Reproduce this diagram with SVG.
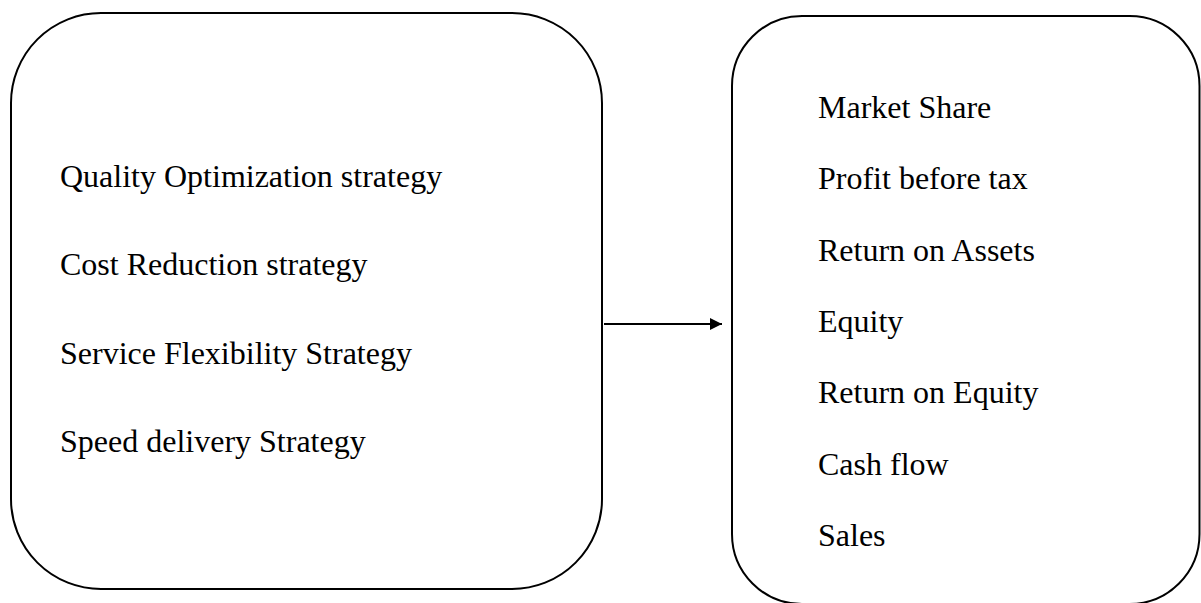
<svg xmlns="http://www.w3.org/2000/svg" width="1201" height="603" viewBox="0 0 1201 603">
  <style>
    .box { fill: #ffffff; stroke: #000000; stroke-width: 2; }
    .label { font-family: "Liberation Serif", "Times New Roman", serif; font-size: 32px; fill: #000000; }
    .link { stroke: #000000; stroke-width: 2; fill: none; }
  </style>
  <defs>
    <marker id="arrowhead" markerWidth="12" markerHeight="12" refX="12" refY="6" orient="auto" markerUnits="userSpaceOnUse">
      <path d="M0,0 L12,6 L0,12 Z" fill="#000000"/>
    </marker>
  </defs>
  <rect width="1201" height="603" fill="#ffffff"/>

  <!-- Operations strategies -->
  <g id="strategies">
    <rect class="box" x="11" y="13" width="591" height="576" rx="90" ry="90"/>
    <text class="label" x="60" y="187">Quality Optimization strategy</text>
    <text class="label" x="60" y="275">Cost Reduction strategy</text>
    <text class="label" x="60" y="364">Service Flexibility Strategy</text>
    <text class="label" x="60" y="452">Speed delivery Strategy</text>
  </g>

  <!-- Performance measures -->
  <g id="performance">
    <rect class="box" x="732" y="16" width="467.5" height="588" rx="70" ry="70"/>
    <text class="label" x="818" y="118">Market Share</text>
    <text class="label" x="818" y="189">Profit before tax</text>
    <text class="label" x="818" y="261">Return on Assets</text>
    <text class="label" x="818" y="332">Equity</text>
    <text class="label" x="818" y="403">Return on Equity</text>
    <text class="label" x="818" y="475">Cash flow</text>
    <text class="label" x="818" y="546">Sales</text>
  </g>

  <g id="connectors">
    <line class="link" x1="604" y1="324" x2="722" y2="324" marker-end="url(#arrowhead)"/>
  </g>
</svg>
